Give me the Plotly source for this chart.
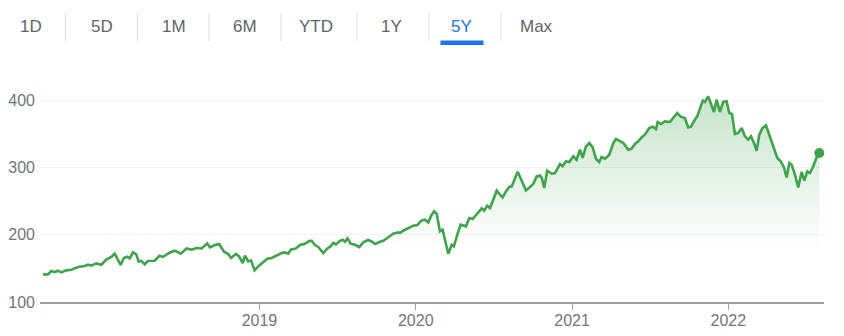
import plotly.graph_objects as go

# ---- data (decimal year, price) ----
years = [
    2017.615, 2017.647, 2017.668, 2017.690, 2017.711, 2017.732, 2017.764, 2017.796, 2017.839, 2017.882,
    2017.903, 2017.924, 2017.956, 2017.988, 2018.020, 2018.052, 2018.074, 2018.095, 2018.112, 2018.133,
    2018.154, 2018.170, 2018.191, 2018.212, 2018.227, 2018.244, 2018.266, 2018.287, 2018.330, 2018.361,
    2018.383, 2018.425, 2018.457, 2018.470, 2018.496, 2018.534, 2018.566, 2018.598, 2018.630, 2018.666,
    2018.683, 2018.715, 2018.743, 2018.773, 2018.800, 2018.818, 2018.850, 2018.869, 2018.893, 2018.907,
    2018.928, 2018.946, 2018.969, 2018.992, 2019.024, 2019.050, 2019.078, 2019.110, 2019.142, 2019.163,
    2019.184, 2019.200, 2019.234, 2019.259, 2019.291, 2019.319, 2019.334, 2019.355, 2019.376, 2019.408,
    2019.434, 2019.451, 2019.472, 2019.489, 2019.515, 2019.532, 2019.547, 2019.564, 2019.583, 2019.611,
    2019.639, 2019.664, 2019.696, 2019.718, 2019.739, 2019.771, 2019.792, 2019.818, 2019.856, 2019.888,
    2019.899, 2019.920, 2019.952, 2019.984, 2020.010, 2020.038, 2020.059, 2020.080, 2020.102, 2020.118,
    2020.134, 2020.155, 2020.172, 2020.193, 2020.208, 2020.230, 2020.244, 2020.266, 2020.287, 2020.321,
    2020.342, 2020.364, 2020.390, 2020.422, 2020.438, 2020.457, 2020.475, 2020.518, 2020.539, 2020.556,
    2020.577, 2020.598, 2020.614, 2020.652, 2020.678, 2020.705, 2020.731, 2020.752, 2020.774, 2020.795,
    2020.807, 2020.822, 2020.841, 2020.870, 2020.891, 2020.912, 2020.923, 2020.940, 2020.961, 2020.982,
    2021.008, 2021.029, 2021.051, 2021.068, 2021.089, 2021.110, 2021.132, 2021.153, 2021.174, 2021.189,
    2021.211, 2021.238, 2021.264, 2021.281, 2021.306, 2021.328, 2021.360, 2021.381, 2021.402, 2021.424,
    2021.445, 2021.466, 2021.494, 2021.516, 2021.537, 2021.548, 2021.569, 2021.594, 2021.626, 2021.658,
    2021.673, 2021.695, 2021.722, 2021.743, 2021.761, 2021.786, 2021.801, 2021.814, 2021.836, 2021.850,
    2021.871, 2021.889, 2021.908, 2021.925, 2021.946, 2021.967, 2021.989, 2022.006, 2022.023, 2022.042,
    2022.063, 2022.085, 2022.106, 2022.127, 2022.145, 2022.164, 2022.181, 2022.198, 2022.219, 2022.241,
    2022.266, 2022.287, 2022.313, 2022.335, 2022.356, 2022.373, 2022.390, 2022.405, 2022.426, 2022.447,
    2022.469, 2022.486, 2022.505, 2022.522, 2022.543, 2022.565, 2022.582,
]
prices = [
    141, 141, 146, 144.5, 146.5, 144, 147, 148, 152, 153.5,
    155.4, 154, 157.4, 155.4, 163, 167, 171.8, 163, 155, 165.4,
    167.3, 164.8, 173.7, 170.7, 160.3, 161, 155.9, 161, 161.4, 168.8,
    167, 173.3, 176.2, 175.2, 171.8, 179.6, 177.7, 180.2, 179.6, 187,
    181.1, 184.7, 186.2, 174.7, 171.3, 165.4, 171.3, 167.8, 157.9, 168.8,
    160.3, 161.9, 147, 152.9, 158.8, 164.3, 165.4, 168.8, 172.8, 173.7,
    171.8, 177.7, 179.6, 184.7, 186.6, 190.6, 191, 184.7, 181.7, 172.8,
    179.6, 181.7, 187.7, 185.6, 191, 192.6, 189.6, 194.5, 186.6, 185.1,
    181.7, 188.6, 192.1, 190, 186.2, 189.6, 191, 195.1, 201.5, 203.5,
    202.5, 205.9, 209.4, 213.4, 214.4, 221.3, 222.3, 218.3, 229.7, 234.6,
    231.2, 204.9, 207.4, 187.7, 171.8, 185.1, 182.6, 200, 214.9, 212.4,
    224.8, 223.3, 230.8, 239.1, 235.7, 243.1, 239.6, 265.4, 259.4, 255.4,
    264.3, 270.9, 271.8, 293.6, 280.2, 265.8, 270.9, 275.3, 286.6, 288.1,
    284.2, 269.4, 295.1, 290.6, 291.6, 300.6, 305, 302, 309, 308,
    316.4, 311.4, 326.3, 314, 331.2, 336.2, 329.7, 312.9, 308, 315.4,
    312.9, 318.9, 336.3, 342.2, 339.7, 336.3, 326.3, 327.8, 334.8, 338.7,
    344.7, 348.6, 358.6, 360.6, 357.1, 367.5, 364.5, 368.4, 367.5, 377.3,
    380.9, 375.4, 373.4, 359.5, 360.5, 371, 375.9, 384.3, 399.1, 397.2,
    405.5, 394.2, 382.3, 400.6, 382.3, 397.2, 398.1, 380.9, 379.5, 349.6,
    351.1, 358.6, 346.1, 341.2, 346.1, 336.3, 324.8, 348.6, 358.6, 362.5,
    346.1, 331.2, 314, 309, 300, 285.1, 306.5, 304, 289.2, 270.3,
    293.2, 280.2, 294.1, 291.7, 301.5, 314.9, 321.4,
]
x_ticks = [2019, 2020, 2021, 2022]
x_tick_labels = ["2019", "2020", "2021", "2022"]
y_ticks = [100, 200, 300, 400]
tabs = ["1D", "5D", "1M", "6M", "YTD", "1Y", "5Y", "Max"]
active_tab = "5Y"

# ---- styling / layout ----
W, H = 844, 336
L, R, T, B = 40, 20, 90, 34
PW, PH = W - L - R, H - T - B
GREEN = "#3ea34b"
FONT = "Arial, Liberation Sans, sans-serif"


def px_x(px):
    return (px - L) / PW


def px_y(py):
    return (H - B - py) / PH


fig = go.Figure()
fig.add_trace(go.Scatter(
    x=years, y=prices, mode="lines",
    line=dict(color=GREEN, width=2.6),
    fill="tozeroy",
    fillgradient=dict(
        type="vertical",
        start=175, stop=410,
        colorscale=[[0, "rgba(62,163,75,0)"], [1, "rgba(62,163,75,0.30)"]],
    ),
    hoverinfo="skip", showlegend=False,
))
fig.add_trace(go.Scatter(
    x=[years[-1]], y=[prices[-1]], mode="markers",
    marker=dict(color=GREEN, size=10),
    hoverinfo="skip", showlegend=False,
))

tab_px = [30.5, 102, 174, 245, 316, 391, 462, 536]
sep_px = [65.5, 137.5, 209, 281, 357, 429, 501]
annotations = []
for name, px in zip(tabs, tab_px):
    annotations.append(dict(
        x=px_x(px), y=px_y(26), xref="paper", yref="paper",
        text=name, showarrow=False, xanchor="center", yanchor="middle",
        font=dict(family=FONT, size=17,
                  color="#1a73e8" if name == active_tab else "#5f6368"),
    ))
shapes = []
for px in sep_px:
    shapes.append(dict(type="line", xref="paper", yref="paper",
                       x0=px_x(px), x1=px_x(px), y0=px_y(13), y1=px_y(41),
                       line=dict(color="#dadce0", width=1)))
ai = tabs.index(active_tab)
shapes.append(dict(type="rect", xref="paper", yref="paper",
                   x0=px_x(tab_px[ai] - 21.5), x1=px_x(tab_px[ai] + 21.5),
                   y0=px_y(45), y1=px_y(40.5),
                   line=dict(width=0), fillcolor="#1a73e8"))

fig.update_layout(
    width=W, height=H,
    margin=dict(l=L, r=R, t=T, b=B, pad=0, autoexpand=False),
    paper_bgcolor="white", plot_bgcolor="white",
    font=dict(family=FONT, color="#70757a", size=16),
    annotations=annotations, shapes=shapes,
    xaxis=dict(
        range=[2017.596, 2022.612], tickvals=x_ticks, ticktext=x_tick_labels,
        showgrid=False, zeroline=False, showline=True, linecolor="#9aa0a6", linewidth=2,
        ticks="outside", ticklen=6, tickcolor="#9aa0a6", tickwidth=1,
        ticklabelstandoff=-3,
        tickfont=dict(size=16, color="#70757a"), fixedrange=True, automargin=False,
    ),
    yaxis=dict(
        range=[100, 415], tickvals=y_ticks,
        showgrid=True, gridcolor="#f1f3f4", gridwidth=1, zeroline=False,
        showline=False, ticks="", ticklabelstandoff=4,
        tickfont=dict(size=16, color="#70757a"), fixedrange=True, automargin=False,
    ),
)

fig.write_html("out.html", config={"displayModeBar": False})
